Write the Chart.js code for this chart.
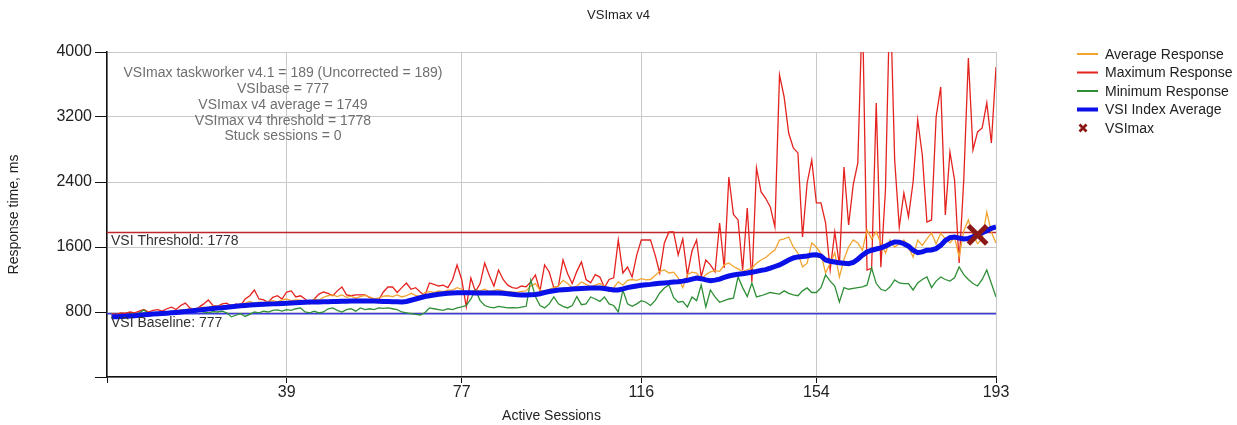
<!DOCTYPE html>
<html>
<head>
<meta charset="utf-8">
<title>VSImax v4</title>
<script src="https://cdn.jsdelivr.net/npm/chart.js@4.4.1/dist/chart.umd.min.js"></script>
<style>
  html, body { margin: 0; padding: 0; background: #fff; }
  canvas { display: block; }
</style>
</head>
<body>
<canvas id="vsiChart" width="1237" height="425"></canvas>
<script>
// session numbers on the x axis
const sessions = Array.from({ length: 193 }, (_, i) => i + 1);
const xTicks = [0, 39, 77, 116, 154, 193];

const vsiBase = 777;
const vsiThreshold = 1778;
const vsiMaxSession = 189;
const vsiMaxAvg = 1749;

const avgResponse = [
  750, 745, 760, 755, 770, 765, 780, 790, 775, 785,
  790, 800, 795, 810, 800, 830, 820, 845, 830, 850,
  860, 855, 875, 865, 880, 870, 890, 885, 900, 910,
  930, 905, 920, 915, 930, 940, 925, 950, 960, 940,
  950, 945, 930, 920, 960, 945, 980, 1000, 1010, 990,
  1010, 980, 995, 970, 990, 1005, 985, 960, 975, 995,
  1000, 990, 1010, 985, 1000, 1030, 1005, 990, 1040, 1050,
  1040, 1060, 1050, 1070, 1070, 1100, 1080, 1020, 1050, 1070,
  1060, 1080, 1050, 1065, 1075, 1060, 1050, 1045, 1040, 1055,
  1060, 1120, 1150, 1070, 1050, 1080, 1100, 1120, 1190, 1150,
  1100, 1120, 1170, 1140, 1110, 1130, 1150, 1120, 1050, 1100,
  1170, 1130, 1190, 1200, 1190, 1210, 1195, 1200, 1250, 1300,
  1317, 1280, 1290, 1220, 1100, 1260, 1290, 1280, 1200, 1260,
  1293, 1310, 1300, 1380, 1403, 1360, 1330, 1300, 1320, 1340,
  1400, 1440, 1470, 1520, 1563, 1686, 1700, 1723, 1600, 1526,
  1354, 1400, 1650, 1600, 1520, 1280, 1400, 1530, 1231, 1450,
  1600, 1686, 1650, 1560, 1810, 1700, 1785, 1650, 1526, 1686,
  1600, 1640, 1686, 1600, 1477, 1686, 1620, 1700, 1773, 1640,
  1770, 1700, 1650, 1720, 1480, 1800, 1933, 1750, 1640, 1700,
  2031, 1780, 1650
];

const maxResponse = [
  780, 770, 790, 785, 800, 790, 810, 830, 800, 820,
  830, 810, 840, 860, 830, 880, 910, 850, 830, 860,
  900, 948, 880, 870, 900, 910, 870, 900, 880, 960,
  1000, 1071, 960, 948, 920, 980, 1000, 960, 1046, 1059,
  985, 1000, 960, 900, 960, 1020, 1046, 1030, 1000, 1060,
  1108, 1010, 1000, 1010, 1010, 1010, 980, 960, 950, 1046,
  1108, 1108, 1040, 1100, 1157, 1080, 1100, 1046, 1000, 1157,
  1140, 1120, 1130, 1100, 1194, 1379, 1200, 862, 1219, 1050,
  1150, 1403, 1250, 1120, 1317, 1200, 1130, 1100, 1090, 1120,
  1110, 1170, 1256, 1060, 1379, 1293, 1100, 1120, 1440, 1270,
  1150, 1300, 1416, 1200, 1160, 1260, 1230, 1100, 1200, 1220,
  1686, 1280, 1354, 1231, 1500, 1686, 1686, 1686, 1500, 1280,
  1650, 1785, 1785, 1502, 1700, 1256, 1550, 1686, 1231, 1440,
  1380, 1293, 1896, 1342, 2462, 2000, 1933, 1317, 2080, 1170,
  2573, 2277, 2200, 2093, 1846, 3717, 3447, 3000, 2819, 2758,
  1723, 2388, 2671, 2142, 2142, 1896, 1317, 1785, 1379, 2585,
  1871, 2364, 2634, 4600, 1317, 1340, 3373, 1350, 2302, 4800,
  2671, 1846, 2265, 1970, 2400, 3164, 2733, 1908, 1933, 3200,
  3570, 1994, 2770, 2425, 1403, 2425, 3927, 2794, 3016, 3065,
  3373, 2880, 3816
];

const minResponse = [
  760, 755, 770, 765, 780, 770, 790, 825, 780, 770,
  775, 790, 780, 800, 785, 790, 810, 795, 800, 815,
  800, 790, 805, 800, 810, 790, 740, 760, 780, 745,
  770, 800, 790, 810, 800, 820, 825, 810, 830, 820,
  840, 850, 800, 790, 810, 788, 800, 840, 850, 820,
  800, 830, 840, 810, 850, 830, 840, 830, 850, 845,
  850, 840, 830, 800, 790, 780, 770, 763, 790, 850,
  840, 830, 820, 840, 830, 850, 862, 880, 960, 1071,
  940, 880, 860, 850, 870, 860, 850, 855, 850, 860,
  870, 1194, 990, 880, 850, 900, 985, 900, 870, 850,
  880, 990, 890, 900, 985, 960, 930, 985, 900, 880,
  800, 1071, 900, 870, 900, 940, 920, 880, 940, 1034,
  1096, 1133, 980, 920, 930, 862, 985, 940, 1133, 862,
  1071, 985, 920, 940, 960, 970, 1231, 1100, 990, 1157,
  985, 1000, 1020, 1040, 1030, 1020, 1060, 1030, 1010, 1000,
  1060, 1096, 1040, 1040, 1100, 1256, 1180, 1120, 923, 1100,
  1080, 1090, 1100, 1110, 1130, 1342, 1150, 1080, 1060, 1110,
  1194, 1157, 1150, 1150, 1071, 1157, 1200, 1231, 1100, 1180,
  1231, 1200, 1180, 1220, 1354, 1260, 1200, 1150, 1120, 1200,
  1317, 1150, 985
];

const vsiIndexAvg = [
  740, 742, 745, 748, 752, 755, 760, 765, 770, 775,
  778, 782, 786, 790, 795, 800, 806, 812, 818, 825,
  830, 836, 842, 848, 852, 858, 864, 870, 876, 880,
  885, 890, 893, 896, 898, 900, 902, 905, 908, 912,
  915, 918, 920, 922, 923, 924, 925, 926, 928, 930,
  932, 933, 934, 935, 935, 936, 935, 934, 932, 930,
  928, 926, 925, 924, 930, 945, 960, 975, 990, 1000,
  1010, 1018, 1025, 1030, 1034, 1036, 1038, 1038, 1036, 1035,
  1034, 1034, 1035, 1035, 1034, 1030, 1025, 1018, 1012, 1010,
  1010, 1012, 1015, 1025, 1040, 1052, 1062, 1070, 1075, 1078,
  1082, 1086, 1090, 1092, 1094, 1096, 1095, 1090, 1080, 1072,
  1072, 1085, 1100, 1110, 1120, 1128, 1135, 1140, 1148, 1155,
  1158, 1162, 1168, 1172, 1180, 1190, 1205, 1219, 1210, 1195,
  1185, 1192, 1205, 1225, 1243, 1255, 1265, 1272, 1280, 1290,
  1300, 1312, 1322, 1340, 1360, 1380, 1410, 1440, 1465, 1478,
  1484, 1490, 1502, 1505, 1490, 1440, 1425, 1415, 1405, 1400,
  1395, 1410, 1450, 1500, 1540, 1560, 1575, 1590, 1610, 1640,
  1662, 1660, 1640, 1610, 1560, 1530, 1540, 1560, 1563, 1580,
  1620, 1680, 1715, 1723, 1710, 1700, 1705, 1725, 1749, 1775,
  1800, 1830, 1846
];

[avgResponse, maxResponse, minResponse, vsiIndexAvg].forEach((arr, i) => {
  if (arr.length !== sessions.length) throw new Error('series ' + i + ' has ' + arr.length + ' values');
});

const FONT = '"Liberation Sans", Arial, sans-serif';
const COLORS = {
  avg: '#f3a430',
  max: '#e4231f',
  min: '#2f8f36',
  vsi: '#0a10e8',
  threshold: '#c0262a',
  base: '#3b3be0',
  vsimax: '#8b1717',
  grid: '#c9c9c9'
};

const summaryLines = [
  `VSImax taskworker v4.1 = ${vsiMaxSession} (Uncorrected = ${vsiMaxSession})`,
  `VSIbase = ${vsiBase}`,
  `VSImax v4 average = ${vsiMaxAvg}`,
  `VSImax v4 threshold = ${vsiThreshold}`,
  'Stuck sessions = 0'
];

const legendItems = [
  { label: 'Average Response', color: COLORS.avg, width: 2 },
  { label: 'Maximum Response', color: COLORS.max, width: 2 },
  { label: 'Minimum Response', color: COLORS.min, width: 2 },
  { label: 'VSI Index Average', color: COLORS.vsi, width: 4 },
  { label: 'VSImax', color: COLORS.vsimax, cross: true }
];

const toPoints = arr => sessions.map((s, i) => ({ x: s, y: arr[i] }));
const flatLine = v => [{ x: xTicks[0], y: v }, { x: xTicks[xTicks.length - 1], y: v }];

function lineSet(label, data, color, width, order) {
  return {
    label, data, order,
    borderColor: color, backgroundColor: color,
    borderWidth: width, pointRadius: 0, tension: 0, fill: false
  };
}

// title, summary text, threshold labels and legend
const overlayPlugin = {
  id: 'overlay',
  afterDraw(chart) {
    const { ctx, chartArea: a, scales: { y } } = chart;
    ctx.save();

    ctx.font = '13px ' + FONT;
    ctx.textAlign = 'center';
    ctx.textBaseline = 'middle';
    ctx.fillStyle = '#222';
    ctx.fillText('VSImax v4', chart.width / 2, 15);

    ctx.font = '14px ' + FONT;
    ctx.fillStyle = '#6f6f6f';
    summaryLines.forEach((t, i) => ctx.fillText(t, a.left + 176, a.top + 21 + i * 15.9));

    ctx.textAlign = 'left';
    ctx.textBaseline = 'top';
    ctx.fillStyle = '#333';
    ctx.fillText('VSI Threshold: ' + vsiThreshold, a.left + 4, y.getPixelForValue(vsiThreshold) + 2);
    ctx.fillText('VSI Baseline: ' + vsiBase, a.left + 4, y.getPixelForValue(vsiBase) + 2);

    ctx.textBaseline = 'middle';
    legendItems.forEach((it, i) => {
      const cy = 54 + i * 18.5;
      ctx.strokeStyle = it.color;
      ctx.beginPath();
      if (it.cross) {
        ctx.lineWidth = 2.8;
        ctx.moveTo(1079.5, cy - 3.5); ctx.lineTo(1086.5, cy + 3.5);
        ctx.moveTo(1086.5, cy - 3.5); ctx.lineTo(1079.5, cy + 3.5);
      } else {
        ctx.lineWidth = it.width;
        ctx.moveTo(1077, cy); ctx.lineTo(1098, cy);
      }
      ctx.stroke();
      ctx.fillStyle = '#222';
      ctx.fillText(it.label, 1105, cy + 1);
    });
    ctx.restore();
  }
};

new Chart(document.getElementById('vsiChart'), {
  type: 'line',
  data: {
    datasets: [
      {
        label: 'VSImax', data: [{ x: vsiMaxSession, y: vsiMaxAvg }], order: -1,
        showLine: false, pointStyle: 'crossRot', pointRadius: 13, pointBorderWidth: 5,
        borderColor: COLORS.vsimax, backgroundColor: COLORS.vsimax, clip: false
      },
      lineSet('VSI Index Average', toPoints(vsiIndexAvg), COLORS.vsi, 5, 0),
      lineSet('Minimum Response', toPoints(minResponse), COLORS.min, 1.3, 1),
      lineSet('Average Response', toPoints(avgResponse), COLORS.avg, 1.3, 2),
      lineSet('Maximum Response', toPoints(maxResponse), COLORS.max, 1.3, 3),
      lineSet('VSI Threshold', flatLine(vsiThreshold), COLORS.threshold, 1.5, 4),
      lineSet('VSI Baseline', flatLine(vsiBase), COLORS.base, 1.5, 4)
    ]
  },
  options: {
    responsive: false,
    animation: false,
    layout: { padding: { left: 0, right: 241, top: 52, bottom: 0 } },
    plugins: {
      legend: { display: false },
      tooltip: { enabled: false },
      title: { display: false }
    },
    scales: {
      x: {
        type: 'linear', min: 0, max: 193,
        afterBuildTicks: s => { s.ticks = xTicks.map(v => ({ value: v })); },
        afterFit: s => { s.height = 48; },
        grid: { color: COLORS.grid, tickColor: '#111', tickLength: 6 },
        border: { color: '#111', width: 1.5 },
        ticks: {
          color: '#222', padding: 0, maxRotation: 0,
          font: { family: FONT, size: 16 },
          callback: v => (v === 0 ? '' : v)
        },
        title: {
          display: true, text: 'Active Sessions', color: '#222',
          font: { family: FONT, size: 14 }, padding: { top: 0, bottom: 0 }
        }
      },
      y: {
        min: 0, max: 4000,
        afterFit: s => { s.width = 107; },
        grid: { color: COLORS.grid, tickColor: '#111', tickLength: 12 },
        border: { color: '#111', width: 1.5 },
        ticks: {
          stepSize: 800, color: '#222', padding: 3,
          font: { family: FONT, size: 16 },
          callback: v => (v === 0 ? '' : v)
        },
        title: {
          display: true, text: 'Response time, ms', color: '#222',
          font: { family: FONT, size: 14 }, padding: { top: 6, bottom: 0 }
        }
      }
    }
  },
  plugins: [overlayPlugin]
});
</script>
</body>
</html>
